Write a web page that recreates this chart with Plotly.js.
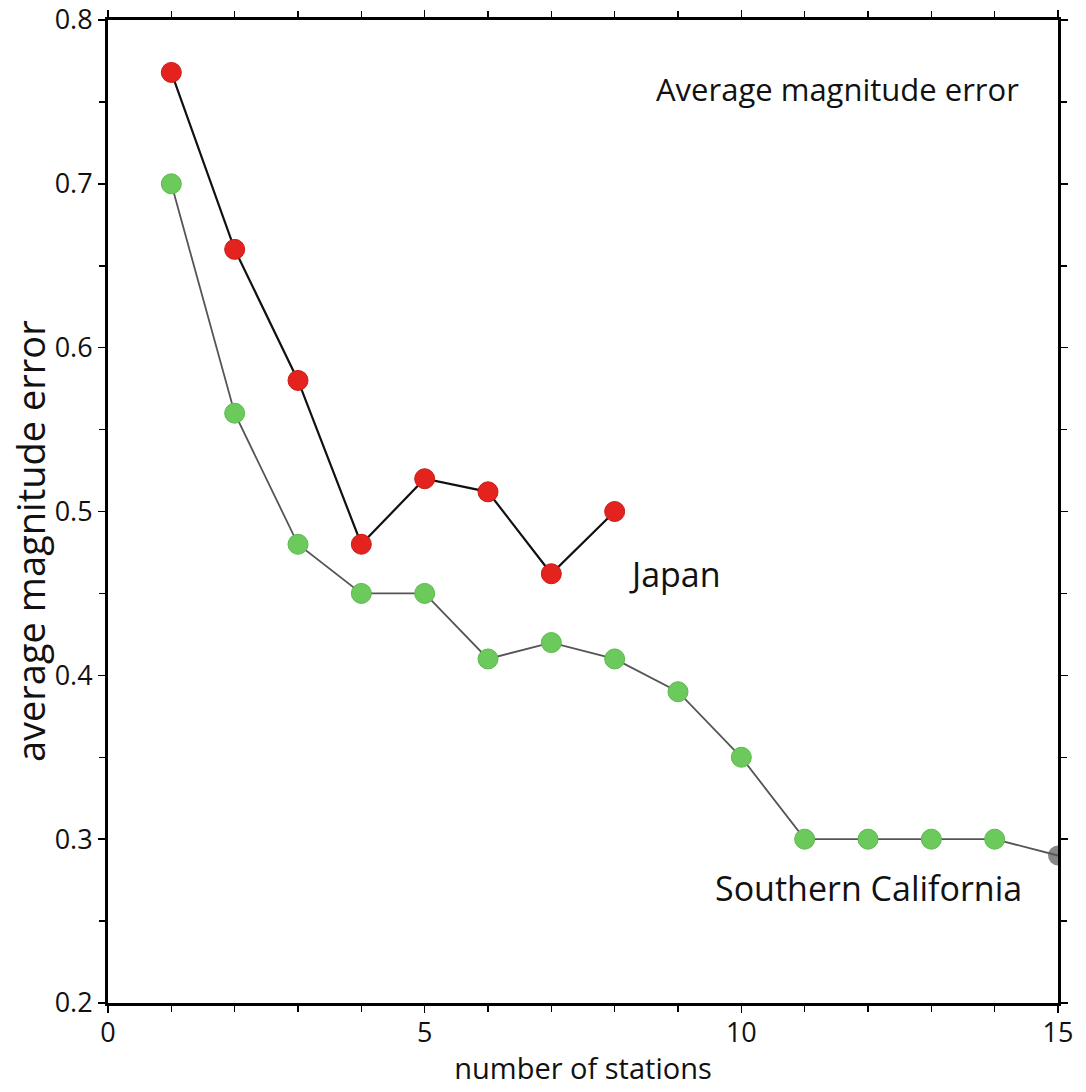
<!DOCTYPE html>
<html>
<head>
<meta charset="utf-8">
<script src="https://cdn.plot.ly/plotly-3.0.1.min.js"></script>
<style>html,body{margin:0;padding:0;background:#fff;}#chart{width:1086px;height:1092px;}</style>
</head>
<body>
<div id="chart"></div>
<script>
const japanStations = [1, 2, 3, 4, 5, 6, 7, 8];
const japanError = [0.768, 0.66, 0.58, 0.48, 0.52, 0.512, 0.462, 0.50];
const socalStations = [1, 2, 3, 4, 5, 6, 7, 8, 9, 10, 11, 12, 13, 14];
const socalError = [0.70, 0.56, 0.48, 0.45, 0.45, 0.41, 0.42, 0.41, 0.39, 0.35, 0.30, 0.30, 0.30, 0.30];
const socalTailStations = [14, 15];
const socalTailError = [0.30, 0.29];
const xTickVals = [0, 5, 10, 15];
const yTickVals = [0.2, 0.3, 0.4, 0.5, 0.6, 0.7, 0.8];

const fontFam = 'Open Sans, Noto Sans, sans-serif';

const traces = [
  {
    x: socalTailStations, y: socalTailError, mode: 'lines+markers', type: 'scatter',
    line: {color: '#555555', width: 1.8},
    marker: {size: [0, 20], color: ['rgba(0,0,0,0)', '#555555'], line: {width: 0}},
    showlegend: false, hoverinfo: 'skip'
  },
  {
    x: socalStations, y: socalError, mode: 'lines+markers', type: 'scatter', name: 'Southern California',
    line: {color: '#555555', width: 1.8},
    marker: {size: 20, color: '#6cc95c', line: {color: '#5cb84e', width: 1}},
    showlegend: false
  },
  {
    x: japanStations, y: japanError, mode: 'lines+markers', type: 'scatter', name: 'Japan',
    line: {color: '#111111', width: 2.2},
    marker: {size: 20, color: '#e5231e', line: {color: '#c81a16', width: 1}},
    showlegend: false
  }
];

const axisCommon = {
  showline: true, linecolor: '#000', linewidth: 3, mirror: 'ticks',
  ticks: 'outside', ticklen: 7, tickwidth: 1.5, tickcolor: '#000',
  showgrid: false, zeroline: false, ticklabeloverflow: 'allow',
  tickfont: {family: fontFam, size: 27, color: '#111'}
};

const layout = {
  width: 1086, height: 1092,
  margin: {l: 108, r: 28, t: 20, b: 89},
  paper_bgcolor: '#fff', plot_bgcolor: '#fff',
  xaxis: Object.assign({}, axisCommon, {
    range: [0, 15], tickvals: xTickVals, ticktext: xTickVals.map(String),
    minor: {dtick: 1, tick0: 0, ticks: 'outside', ticklen: 6, tickcolor: '#000', tickwidth: 1.5},
    ticklabelstandoff: -3,
    title: {text: 'number of stations', font: {family: fontFam, size: 29, color: '#111'}, standoff: 10}
  }),
  yaxis: Object.assign({}, axisCommon, {
    range: [0.2, 0.8], tickvals: yTickVals, ticktext: yTickVals.map(v => v.toFixed(1)),
    minor: {dtick: 0.05, tick0: 0.2, ticks: 'outside', ticklen: 6, tickcolor: '#000', tickwidth: 1.5}
  }),
  annotations: [
    {x: -0.082, y: 0.47, xref: 'paper', yref: 'paper', text: 'average magnitude error', showarrow: false,
     textangle: -90, font: {family: fontFam, size: 38, color: '#111'}, xanchor: 'center', yanchor: 'middle'},
    {x: 0.768, y: 0.93, xref: 'paper', yref: 'paper', text: 'Average magnitude error', showarrow: false,
     font: {family: fontFam, size: 31, color: '#111'}, xanchor: 'center', yanchor: 'middle'},
    {x: 8.2, y: 0.462, xref: 'x', yref: 'y', text: 'Japan', showarrow: false,
     font: {family: fontFam, size: 34, color: '#111'}, xanchor: 'left', yanchor: 'middle'},
    {x: 9.55, y: 0.27, xref: 'x', yref: 'y', text: 'Southern California', showarrow: false,
     font: {family: fontFam, size: 34, color: '#111'}, xanchor: 'left', yanchor: 'middle'}
  ]
};

Plotly.newPlot('chart', traces, layout, {displayModeBar: false, staticPlot: true});
</script>
</body>
</html>
